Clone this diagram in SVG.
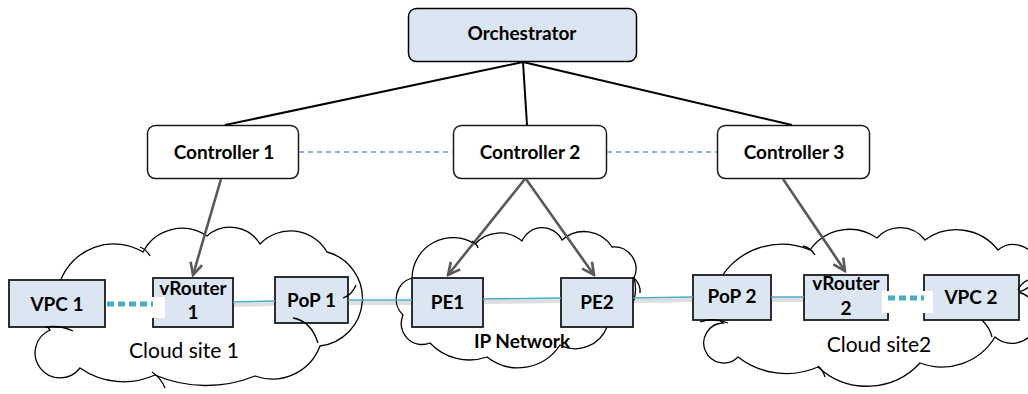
<svg xmlns="http://www.w3.org/2000/svg" width="1028" height="394" viewBox="0 0 1028 394">
<style>
  text { font-family: Lato, "Liberation Sans", sans-serif; fill: #000; }
  .lbl { font-weight: bold; font-size: 19px; text-anchor: middle; }
  .cl { font-size: 21px; text-anchor: middle; }
  .cloud { fill: #fff; stroke: #000; stroke-width: 1.3; }
  .curl { fill: none; stroke: #000; stroke-width: 1.3; }
  .box { fill: #dce6f2; stroke: #1a1a1a; stroke-width: 1.8; }
  .ctl { fill: #fff; stroke: #1a1a1a; stroke-width: 1.5; }
  .orch { stroke: #000; stroke-width: 2; fill: none; }
  .peer { stroke: #6f96ce; stroke-width: 1.6; stroke-dasharray: 5 4; fill: none; }
  .ctrl { stroke: #595959; stroke-width: 2.6; fill: none; marker-end: url(#arr); }
  .link { stroke: #4bacc6; stroke-width: 1.6; fill: none; }
  .shadow { stroke: #000; stroke-opacity: 0.13; stroke-width: 4; fill: none; }
  .dots { stroke: #4bacc6; stroke-width: 5; stroke-dasharray: 7 4; fill: none; }
  .dotsh { stroke: #000; stroke-opacity: 0.18; stroke-width: 5; stroke-dasharray: 7 4; fill: none; filter: url(#blur); }
</style>
<defs>
  <marker id="arr" markerUnits="userSpaceOnUse" markerWidth="16" markerHeight="16" viewBox="0 0 16 16" refX="14" refY="8" orient="auto">
    <path d="M2,2 L14,8 L2,14" fill="none" stroke="#595959" stroke-width="2.6"/>
  </marker>
  <filter id="blur" x="-20%" y="-100%" width="140%" height="300%">
    <feGaussianBlur stdDeviation="1.5"/>
  </filter>
</defs>

<g id="cloud-site-1">
  <path class="cloud" d="M 60 282 A 57 57 0 0 1 143 252 A 44 44 0 0 1 207 236 A 35 35 0 0 1 260 244 A 42 42 0 0 1 327 252 A 48 48 0 0 1 320 346 A 51 51 0 0 1 255 376 A 130 130 0 0 1 155 375 A 76 76 0 0 1 80 368 A 25 25 0 1 1 50 330 A 30 30 0 0 1 60 282 Z"/>
  <text class="cl" x="184" y="358">Cloud site 1</text>
</g>
<g id="ip-network">
  <path class="cloud" d="M 403 315 A 22 22 0 0 1 412 278 A 41 41 0 0 1 475 244 A 34 34 0 0 1 522 241 A 22 22 0 0 1 562 240 A 33 33 0 0 1 612 247 A 22 22 0 0 1 634 278 A 40 40 0 0 1 607 327 A 34 34 0 0 1 560 345 A 50 50 0 0 1 487 357 A 54 54 0 0 1 430 343 A 21 21 0 0 1 403 315 Z"/>
  <text class="lbl" x="522" y="348">IP Network</text>
</g>
<g id="cloud-site-2">
  <path class="cloud" d="M 722 276 A 72 72 0 0 1 810 250 A 48 48 0 0 1 877 238 A 31 31 0 0 1 925 240 A 53 53 0 0 1 998 250 A 24 24 0 1 1 1018 292 A 26 26 0 1 1 995 337 A 62 62 0 0 1 920 363 A 72 72 0 0 1 818 367 A 79 79 0 0 1 738 357 A 20 20 0 1 1 723 323 A 30 30 0 0 1 722 276 Z"/>
  <text class="cl" x="879" y="352">Cloud site2</text>
</g>

<g id="orchestrator">
  <rect x="408.5" y="8.5" width="228" height="53" rx="8" class="box" style="stroke-width:1.5;stroke:#000"/>
  <text class="lbl" x="522" y="40">Orchestrator</text>
</g>
<g id="controller-1">
  <rect x="147.5" y="125.5" width="151" height="53" rx="8" class="ctl"/>
  <text class="lbl" x="224" y="159">Controller 1</text>
</g>
<g id="controller-2">
  <rect x="453.5" y="125.5" width="153" height="53" rx="8" class="ctl"/>
  <text class="lbl" x="530" y="159">Controller 2</text>
</g>
<g id="controller-3">
  <rect x="717.5" y="125.5" width="152" height="53" rx="8" class="ctl"/>
  <text class="lbl" x="794" y="159">Controller 3</text>
</g>

<g id="vpc-1">
  <rect x="9" y="280" width="96" height="47" class="box"/>
  <text class="lbl" x="57" y="311">VPC 1</text>
</g>
<g id="vrouter-1">
  <rect x="153" y="278" width="80" height="49" class="box"/>
  <text class="lbl" x="193" y="295">vRouter</text>
  <text class="lbl" x="193" y="319">1</text>
</g>
<g id="pop-1">
  <rect x="275" y="277" width="73" height="46" class="box"/>
  <text class="lbl" x="311.5" y="307">PoP 1</text>
</g>
<g id="pe1">
  <rect x="412" y="278" width="71" height="49" class="box"/>
  <text class="lbl" x="447.5" y="309">PE1</text>
</g>
<g id="pe2">
  <rect x="561" y="278" width="72" height="49" class="box"/>
  <text class="lbl" x="597" y="309">PE2</text>
</g>
<g id="pop-2">
  <rect x="693" y="275" width="78" height="45" class="box"/>
  <text class="lbl" x="732" y="303">PoP 2</text>
</g>
<g id="vrouter-2">
  <rect x="804" y="275" width="84" height="45" class="box"/>
  <text class="lbl" x="846" y="290">vRouter</text>
  <text class="lbl" x="846" y="315">2</text>
</g>
<g id="vpc-2">
  <rect x="924" y="275" width="95" height="45" class="box"/>
  <text class="lbl" x="971" y="304">VPC 2</text>
</g>

<g id="connectors">
  <path class="orch" d="M 523 62 L 225 125 M 523 62 L 527 125 M 523 62 L 792 125"/>
  <path class="peer" d="M 299 152 L 453 152 M 607 152 L 717 152"/>
  <path class="ctrl" d="M 221 179 L 193 275"/>
  <path class="ctrl" d="M 525 179 L 448 275"/>
  <path class="ctrl" d="M 526 179 L 594 275"/>
  <path class="ctrl" d="M 783 179 L 845 271"/>
  <path class="shadow" d="M 234 305 L 274 304 M 349 303 L 411 303 M 484 302 L 560 301 M 634 301 L 692 300 M 772 300 L 803 300"/>
  <path class="link" d="M 233 302 L 275 301 M 348 300 L 412 300 M 483 299 L 561 298 M 633 298 L 693 297 M 771 297 L 804 297"/>
  <rect x="106" y="297" width="59" height="21" fill="#fff"/>
  <path class="dotsh" d="M 107 308 L 153 308"/>
  <path class="dots" d="M 107 304 L 153 304"/>
  <rect x="882" y="291" width="51" height="22" fill="#fff"/>
  <path class="dotsh" d="M 888 302 L 924 302"/>
  <path class="dots" d="M 888 298 L 924 298"/>
</g>

<g id="cloud-curls">
  <path class="curl" d="M 140 247 Q 147 250 150 256"/>
  <path class="curl" d="M 293 318 Q 311 321 318 343"/>
  <path class="curl" d="M 356 285 Q 352 295 343 298"/>
  <path class="curl" d="M 45 327 Q 60 325 73 331"/>
  <path class="curl" d="M 152 372 Q 161 378 165 388"/>
  <path class="curl" d="M 633 277 Q 641 284 640 293"/>
  <path class="curl" d="M 472 241 Q 477 244 478 248"/>
  <path class="curl" d="M 700 322 Q 713 317 728 323"/>
  <path class="curl" d="M 803 246 Q 811 248 815 255"/>
  <path class="curl" d="M 1018 290 Q 1021 283 1028 280"/>
  <path class="curl" d="M 982 320 Q 990 328 992 337"/>
  <path class="curl" d="M 818 366 Q 823 370 825 377"/>
</g>
</svg>
